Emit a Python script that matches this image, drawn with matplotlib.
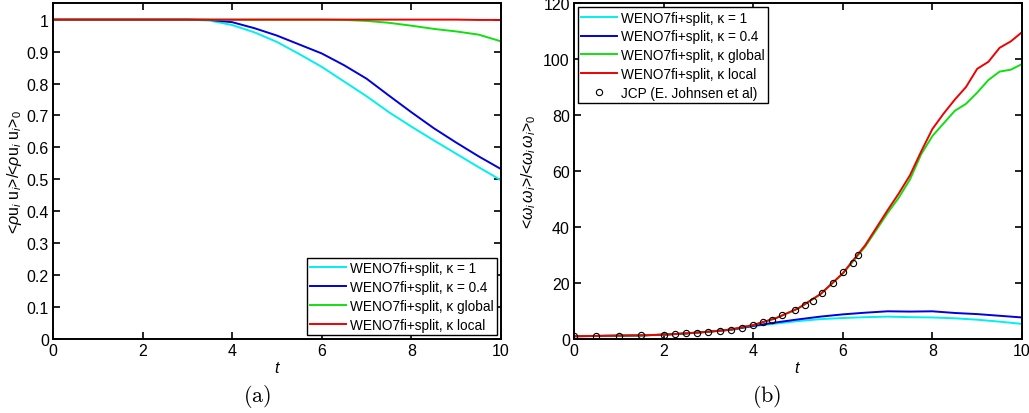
import numpy as np
import matplotlib
matplotlib.use("Agg")
import matplotlib.pyplot as plt

plt.rcParams['font.family'] = ['Liberation Sans', 'DejaVu Sans']
plt.rcParams['mathtext.fontset'] = 'custom'
plt.rcParams['mathtext.rm'] = 'Liberation Sans'
plt.rcParams['mathtext.it'] = 'Liberation Sans:italic'

# (a) kinetic energy
t_a = [0, 1, 2, 3, 3.5, 4, 4.5, 5, 5.5, 6, 6.5, 7, 7.5, 8, 8.5, 9, 9.5, 10]
ke_k1 = [1, 1, 1, 1, 0.997, 0.983, 0.96, 0.93, 0.892, 0.852, 0.806, 0.76, 0.71, 0.665, 0.622, 0.58, 0.538, 0.497]
ke_k04 = [1, 1, 1, 1, 0.999, 0.992, 0.973, 0.95, 0.922, 0.894, 0.857, 0.815, 0.762, 0.71, 0.66, 0.615, 0.572, 0.532]
ke_glob = [1, 1, 1, 1, 1, 1, 1, 1, 1, 1, 0.999, 0.996, 0.99, 0.981, 0.971, 0.963, 0.953, 0.932]
ke_loc = [1, 1, 1, 1, 1, 1, 1, 1, 1, 1, 1, 1, 1, 1, 1, 1, 0.999, 0.999]

# (b) enstrophy
t_b = [0, 0.5, 1, 1.5, 2, 2.5, 3, 3.5, 4, 4.5, 5, 5.5, 6, 6.5, 7, 7.25, 7.5, 7.75, 8, 8.25, 8.5, 8.75, 9, 9.25, 9.5, 9.75, 10]
en_loc = [1, 1.1, 1.2, 1.3, 1.55, 2.0, 2.6, 3.4, 5.0, 7.4, 10.9, 16.0, 23.5, 33.5, 46, 52, 58.5, 67, 75, 80.5, 85.5, 90, 96.5, 99, 104, 106.3, 109.6]
en_glob = [1, 1.1, 1.2, 1.3, 1.55, 2.0, 2.6, 3.4, 5.0, 7.4, 10.9, 16.0, 23.3, 33.0, 45, 50.5, 57, 66, 72.5, 77, 81.5, 84, 88, 92.5, 95.5, 96.2, 98.2]
t_b2 = [0, 0.5, 1, 1.5, 2, 2.5, 3, 3.5, 4, 4.5, 5, 5.5, 6, 6.5, 7, 7.5, 8, 8.5, 9, 9.5, 10]
en_k04 = [1, 1.1, 1.2, 1.3, 1.55, 2.0, 2.6, 3.3, 4.7, 5.9, 7.0, 8.0, 8.8, 9.4, 9.9, 9.8, 9.9, 9.3, 8.9, 8.3, 7.7]
en_k1 = [1, 1.1, 1.2, 1.3, 1.55, 2.0, 2.6, 3.3, 4.6, 5.5, 6.4, 7.1, 7.5, 7.8, 8.0, 7.8, 7.7, 7.4, 6.9, 6.2, 5.4]

# JCP reference points
t_ref = [0, 0.5, 1.0, 1.5, 2.0, 2.25, 2.5, 2.75, 3.0, 3.25, 3.5, 3.75, 4.0, 4.22, 4.43, 4.65, 4.93, 5.15, 5.33, 5.53, 5.78, 6.0, 6.22, 6.34]
en_ref = [1.0, 1.1, 1.2, 1.3, 1.55, 1.8, 2.0, 2.3, 2.6, 2.9, 3.35, 4.1, 5.0, 5.9, 6.9, 8.6, 10.2, 12.1, 13.7, 16.5, 20.1, 23.8, 27.3, 30.1]

labels = ['WENO7fi+split, \u03ba = 1', 'WENO7fi+split, \u03ba = 0.4',
          'WENO7fi+split, \u03ba global', 'WENO7fi+split, \u03ba local']
colors = ['#00f0f0', '#0000e0', '#10e010', '#f00000']

fig = plt.figure(figsize=(10.29, 4.14), dpi=100)
ax1 = fig.add_axes([0.0515, 0.1787, 0.4354, 0.8116])
ax2 = fig.add_axes([0.5578, 0.1787, 0.4354, 0.8116])

for y, c, l in zip([ke_k1, ke_k04, ke_glob, ke_loc], colors, labels):
    ax1.plot(t_a, y, color=c, lw=1.4, label=l)
for tt, y, c, l in zip([t_b2, t_b2, t_b, t_b], [en_k1, en_k04, en_glob, en_loc], colors, labels):
    ax2.plot(tt, y, color=c, lw=1.4, label=l)
ax2.plot(t_ref, en_ref, 'o', mfc='none', mec='black', ms=4.5, mew=0.8,
         label='JCP (E. Johnsen et al)')

ax1.set_xlim(0, 10)
ax1.set_ylim(0, 1.052)
ax1.set_yticks(np.arange(0, 1.01, 0.1))
ax1.set_yticklabels(['0', '0.1', '0.2', '0.3', '0.4', '0.5', '0.6', '0.7', '0.8', '0.9', '1'])
ax2.set_xlim(0, 10)
ax2.set_ylim(0, 120)
ax2.set_yticks(range(0, 121, 20))

for ax in (ax1, ax2):
    ax.set_xticks(range(0, 11, 2))
    ax.tick_params(direction='in', top=True, right=True, length=5, width=1.2,
                   labelsize=11.5, pad=3)
    for s in ax.spines.values():
        s.set_linewidth(1.4)
    ax.set_xlabel('$t$', fontsize=11.5, labelpad=1)

ax1.set_ylabel(r'<$\rho$u$_i$ u$_i$>/<$\rho$u$_i$ u$_i$>$_0$', fontsize=11.5, labelpad=2)
ax2.set_ylabel(r'<$\omega_i\,\omega_i$>/<$\omega_i\,\omega_i$>$_0$', fontsize=11.5, labelpad=4)

leg_kw = dict(fontsize=9.8, fancybox=False, framealpha=1, edgecolor='black',
              handlelength=2.6, handletextpad=0.3, borderpad=0.25, labelspacing=0.35,
              borderaxespad=0.3)
lg1 = ax1.legend(loc='lower right', **leg_kw)
lg2 = ax2.legend(loc='upper left', **leg_kw)
for lg in (lg1, lg2):
    lg.get_frame().set_linewidth(1.0)

fig.text(0.25, 0.03, r'$\mathrm{(a)}$', math_fontfamily='cm', fontsize=16, ha='center')
fig.text(0.745, 0.03, r'$\mathrm{(b)}$', math_fontfamily='cm', fontsize=16, ha='center')

fig.savefig('out.png', dpi=100)
